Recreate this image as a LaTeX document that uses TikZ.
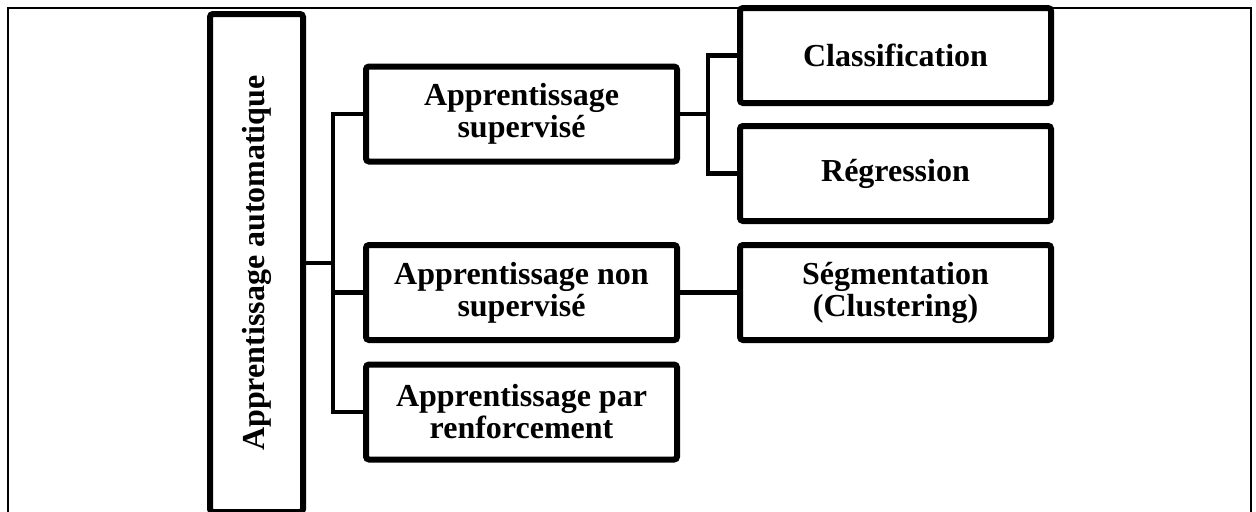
\documentclass[tikz,border=0pt]{standalone}
\usepackage{fontspec}
\setmainfont{Liberation Serif}
\usetikzlibrary{shadows}
\tikzset{
  box/.style={draw=black, line width=3pt, rounded corners=1.5pt, fill=white,
    inner sep=2pt, outer sep=0pt, align=center,
    minimum width=155.5pt, minimum height=47.5pt,
    font=\bfseries\fontsize{16}{16}\selectfont,
    drop shadow={shadow xshift=1.2pt, shadow yshift=-1.2pt, opacity=0.25, fill=black}},
  link/.style={draw=black, line width=2.4pt, line cap=rect}
}
\begin{document}
\begin{tikzpicture}[x=0.5pt, y=-0.5pt]
    \path [use as bounding box, clip] (0,0) rectangle (1256,511);
    \fill [white] (0,0) rectangle (1256,511);
    \draw [line width=0.8pt] (8,8) rectangle (1251,540);
    % root and first level
    \node [box, minimum width=46.5pt, minimum height=249pt] (root) at (256.5,263) {\rotatebox{90}{Apprentissage automatique}};
    \node [box] (sup) at (521.5,114) {Apprentissage\\supervisé};
    \node [box] (nonsup) at (521.5,292.5) {Apprentissage non\\supervisé};
    \node [box] (renf) at (521.5,412) {Apprentissage par\\renforcement};
    % second level
    \node [box] (classif) at (895.5,55.5) {Classification};
    \node [box] (regr) at (895.5,173.5) {Régression};
    \node [box] (segm) at (895.5,292.5) {Ségmentation\\(Clustering)};
    % connectors
    \coordinate (jroot) at (333,263);
    \coordinate (jsup) at (708,114);
    \draw [link] (root.east) -- (jroot);
    \draw [link] (sup.west) -| (jroot) |- (renf.west);
    \draw [link] (nonsup.west) -- (nonsup.west -| jroot);
    \draw [link] (sup.east) -- (jsup);
    \draw [link] (classif.west) -| (jsup) |- (regr.west);
    \draw [link] (nonsup.east) -- (segm.west);
  \end{tikzpicture}
\end{document}
